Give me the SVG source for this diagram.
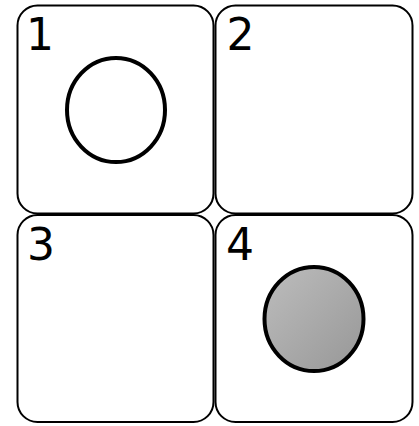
<svg xmlns="http://www.w3.org/2000/svg" width="419" height="426" viewBox="0 0 419 426">
<style>
.box{fill:#fff;stroke:#000;stroke-width:2}
.lbl{font-family:"DejaVu Sans",sans-serif;font-size:44px;fill:#000}
.c{stroke:#000;stroke-width:4}
</style>
<defs>
<linearGradient id="g" x1="0" y1="0" x2="1" y2="1">
<stop offset="0" stop-color="#bdbdbd"/>
<stop offset="1" stop-color="#979797"/>
</linearGradient>
</defs>
<rect width="419" height="426" fill="#fff"/>
<g id="cell1">
<rect class="box" x="17.5" y="5.5" width="196" height="208" rx="20"/>
<text class="lbl" x="26" y="50">1</text>
<ellipse class="c" cx="116" cy="110" rx="49" ry="52" fill="#fff"/>
</g>
<g id="cell2">
<rect class="box" x="215.5" y="5.5" width="197" height="208" rx="20"/>
<text class="lbl" x="226.5" y="50">2</text>
</g>
<g id="cell3">
<rect class="box" x="17.5" y="215" width="196" height="207" rx="20"/>
<text class="lbl" x="27" y="260">3</text>
</g>
<g id="cell4">
<rect class="box" x="215.5" y="215" width="197" height="207" rx="20"/>
<text class="lbl" x="226" y="260">4</text>
<ellipse class="c" cx="314" cy="319" rx="49.5" ry="52" fill="url(#g)"/>
</g>
<g id="connectors"/>
</svg>
